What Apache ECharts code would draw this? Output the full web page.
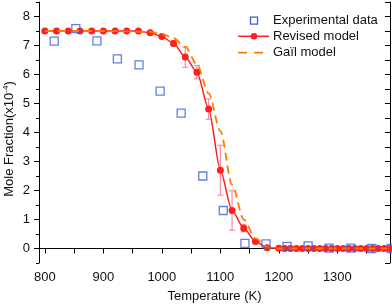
<!DOCTYPE html>
<html>
<head>
<meta charset="utf-8">
<script src="https://cdn.jsdelivr.net/npm/echarts@6/dist/echarts.min.js"></script>
<style>
html,body{margin:0;padding:0;background:#fff;}
#c{width:392px;height:307px;}
</style>
</head>
<body>
<div id="c"></div>
<script>
// ---- data ----
var expX = [816, 853, 889, 924, 961, 997, 1033, 1070, 1105, 1142, 1178, 1214, 1250, 1286, 1323, 1359, 1392];
var expY = [7.15, 7.58, 7.16, 6.54, 6.33, 5.43, 4.67, 2.50, 1.31, 0.18, 0.16, 0.07, 0.09, 0.01, 0.01, 0.0, 0.0];

var revX = [800, 820, 840, 860, 880, 900, 920, 940, 960, 980, 1000, 1020, 1040, 1060, 1080, 1100, 1120, 1140, 1160, 1180, 1200,
            1210, 1220, 1230, 1240, 1250, 1260, 1270, 1280, 1290, 1300, 1310, 1320, 1330, 1340, 1350, 1360, 1370, 1380, 1390];
var revY = [7.5, 7.5, 7.5, 7.5, 7.5, 7.5, 7.5, 7.5, 7.5, 7.44, 7.31, 7.07, 6.6, 6.08, 4.81, 2.70, 1.31, 0.70, 0.24, 0.03, 0.01,
            0, 0, 0, 0, 0, 0, 0, 0, 0, 0, 0, 0, 0, 0, 0, 0, 0, 0, 0];

var errX = [1020, 1040, 1060, 1080, 1100, 1120, 1140, 1160];
var errY = [7.07, 6.6, 6.08, 4.81, 2.70, 1.31, 0.70, 0.24];
var errE = [0.1, 0.35, 0.23, 0.35, 0.86, 0.68, 0.12, 0.05];

var gailX = [800, 900, 980, 1000, 1020, 1040, 1060, 1080, 1100, 1120, 1140, 1160, 1180, 1200, 1300, 1390];
var gailY = [7.5, 7.5, 7.47, 7.4, 7.25, 6.95, 6.35, 5.35, 4.05, 2.2, 1.0, 0.35, 0.05, 0, 0, 0];

var xMajor = [800, 900, 1000, 1100, 1200, 1300];
var xMinor = [850, 950, 1050, 1150, 1250, 1350];
var yMajor = [0, 1, 2, 3, 4, 5, 6, 7, 8];
var yMinor = [-0.5, 0.5, 1.5, 2.5, 3.5, 4.5, 5.5, 6.5, 7.5, 8.5];

var seriesNames = ['Experimental data', 'Revised model', 'Gaïl model'];
var xTitle = 'Temperature (K)';
var yTitle = 'Mole Fraction(x10{s|-4})';

// ---- chart ----
var RED = '#ff1f1f', ORANGE = '#ff7a00', BLUE = '#3a5fe0', PINK = '#f0889a';
var FONT = 'Liberation Sans, Arial, sans-serif';
function zip(a, b) { return a.map(function (v, i) { return [v, b[i]]; }); }

function mkX(pos, vals, len, inside, labels, line) {
  return {
    type: 'value', position: pos, min: 790, max: 1390,
    axisLine: { show: line, lineStyle: { color: '#000', width: 1 } },
    axisTick: { show: true, inside: inside, length: len, customValues: vals, lineStyle: { color: '#000', width: 1 } },
    axisLabel: { show: labels, customValues: vals, color: '#111', fontSize: 13, fontFamily: FONT, margin: 8,
                 formatter: function (v) { return String(v); } },
    splitLine: { show: false }
  };
}
function mkY(pos, vals, len, inside, labels, line) {
  return {
    type: 'value', position: pos, min: -0.5, max: 8.5,
    axisLine: { show: line, lineStyle: { color: '#000', width: 1 } },
    axisTick: { show: true, inside: inside, length: len, customValues: vals, lineStyle: { color: '#000', width: 1 } },
    axisLabel: { show: labels, customValues: vals, color: '#111', fontSize: 13, fontFamily: FONT, margin: 9 },
    splitLine: { show: false }
  };
}

var xAxes = [
  mkX('bottom', xMajor, 4, false, true, true),
  mkX('bottom', xMinor, 3, false, false, false),
  mkX('top', xMajor, 5, true, false, true),
  mkX('top', xMinor, 5, true, false, false)
];
xAxes[0].name = xTitle;
xAxes[0].nameLocation = 'middle';
xAxes[0].nameGap = 27;
xAxes[0].nameTextStyle = { fontSize: 13, fontFamily: FONT, color: '#111' };

var yAxes = [
  mkY('left', yMajor, 5, false, true, true),
  mkY('left', yMinor, 3, false, false, false),
  mkY('right', yMajor, 5, true, false, true),
  mkY('right', yMinor, 5, true, false, false)
];

// legend + y title drawn as graphic
var LX0 = 238, LX1 = 269, LTX = 273, LY = [20.7, 36.3, 52.7];
var graphics = [
  { type: 'rect', shape: { x: 250.5, y: LY[0] - 3.5, width: 7, height: 7 },
    style: { fill: 'none', stroke: BLUE, lineWidth: 1.3 } },
  { type: 'line', shape: { x1: LX0, y1: LY[1], x2: LX1, y2: LY[1] }, style: { stroke: RED, lineWidth: 1.5 } },
  { type: 'circle', shape: { cx: 254, cy: LY[1], r: 3.3 }, style: { fill: RED } },
  { type: 'line', shape: { x1: LX0, y1: LY[2], x2: LX1, y2: LY[2] }, style: { stroke: ORANGE, lineWidth: 1.8, lineDash: [9, 7] } },
  { type: 'text', x: 9.5, y: 139, rotation: Math.PI / 2,
    style: { text: yTitle, font: '13px ' + FONT, fill: '#111', align: 'center', verticalAlign: 'middle',
             rich: { s: { fontSize: 8, fontFamily: FONT, fill: '#111', padding: [0, 0, 7, 0] } } } }
];
seriesNames.forEach(function (n, i) {
  graphics.push({ type: 'text', x: LTX, y: LY[i],
    style: { text: n, font: '13px ' + FONT, fill: '#111', verticalAlign: 'middle' } });
});

var chart = echarts.init(document.getElementById('c'), null, { renderer: 'canvas' });
chart.setOption({
  animation: false,
  backgroundColor: '#fff',
  grid: { left: 39, right: 2, top: 2, bottom: 44, containLabel: false, outerBoundsMode: 'none' },
  xAxis: xAxes,
  yAxis: yAxes,
  graphic: graphics,
  series: [
    {
      name: 'Revised model', type: 'line', data: zip(revX, revY),
      smooth: 0.25, smoothMonotone: 'x',
      symbol: 'circle', symbolSize: 7, showSymbol: true,
      itemStyle: { color: RED }, lineStyle: { color: RED, width: 1.5 }, z: 3
    },
    {
      name: 'errbars', type: 'custom', z: 2,
      data: errX.map(function (x, i) { return [x, errY[i] - errE[i], errY[i] + errE[i]]; }),
      renderItem: function (params, api) {
        var x = api.value(0), lo = api.value(1), hi = api.value(2);
        var p1 = api.coord([x, hi]), p2 = api.coord([x, lo]);
        var w = 3, st = { stroke: PINK, lineWidth: 1.1 };
        return { type: 'group', children: [
          { type: 'line', shape: { x1: p1[0], y1: p1[1], x2: p2[0], y2: p2[1] }, style: st },
          { type: 'line', shape: { x1: p1[0] - w, y1: p1[1], x2: p1[0] + w, y2: p1[1] }, style: st },
          { type: 'line', shape: { x1: p2[0] - w, y1: p2[1], x2: p2[0] + w, y2: p2[1] }, style: st }
        ] };
      }
    },
    {
      name: 'Gaïl model', type: 'line', data: zip(gailX, gailY),
      smooth: 0.3, smoothMonotone: 'x', showSymbol: false, symbol: 'none',
      itemStyle: { color: ORANGE }, lineStyle: { color: ORANGE, width: 1.8, type: [8, 5] }, z: 4
    },
    {
      name: 'Experimental data', type: 'scatter', data: zip(expX, expY),
      symbol: 'rect', symbolSize: 8, clip: false,
      itemStyle: { color: 'rgba(255,255,255,0)', borderColor: BLUE, borderWidth: 1.3 }, z: 5
    }
  ]
});
</script>
</body>
</html>
